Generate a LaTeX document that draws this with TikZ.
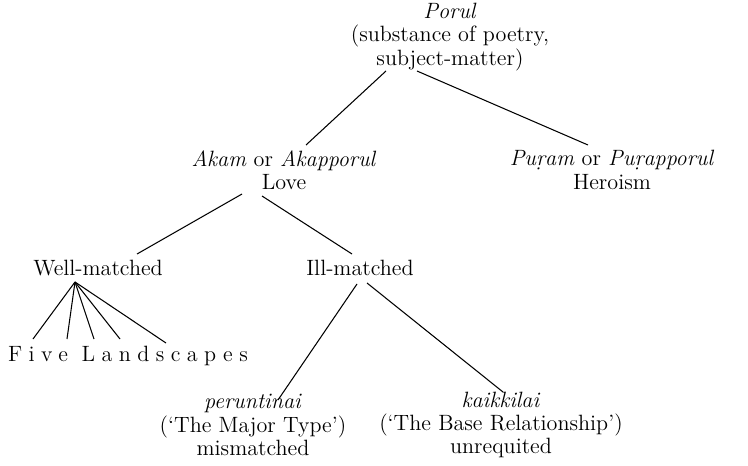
\documentclass[tikz,border=0pt]{standalone}
\usepackage{fontspec}
\setmainfont{Latin Modern Roman}
\usetikzlibrary{calc}
\tikzset{
  term/.style={
    align=center,
    inner sep=1pt,
    font=\fontsize{12.6}{13.2}\selectfont
  },
  spaced/.style={
    term,
    font=\fontsize{12.6}{13.2}\selectfont\addfontfeature{LetterSpace=29}
  },
  branch/.style={line width=0.6pt}
}

\begin{document}
\begin{tikzpicture}[x=0.02cm,y=-0.02cm]
    \useasboundingbox (0,0) rectangle (748,466);
    % levels of the tree
    \node (porul) [term] at (450,37) {\textit{Porul}\\(substance of poetry,\\subject-matter)};
    \node (akam)  [term] at (284,170) {\textit{Akam} or \textit{Akapporul}\\Love};
    \node (puram) [term] at (612,170) {\textit{Puṛam} or \textit{Puṛapporul}\\Heroism};
    \node (well)  [term] at (98,268) {Well-matched};
    \node (ill)   [term] at (360,268) {Ill-matched};
    \node (five)  [spaced] at (128,356) {Five Landscapes};
    \node (perun) [term] at (253,425) {\textit{peruntinai}\\(`The Major Type')\\mismatched};
    \node (kaik)  [term] at (501,425) {\textit{kaikkilai}\\(`The Base Relationship')\\unrequited};
    \coordinate (fan) at ($(well)+(-23,14)$);

    \draw [branch] ($(porul)+(-64,34)$) -- ($(akam)+(22,-25)$);
    \draw [branch] ($(porul)+(-33,34)$) -- ($(puram)+(-24,-25)$);
    \draw [branch] ($(akam)+(-42,24)$) -- ($(well)+(39,-14)$);
    \draw [branch] ($(akam)+(-22,26)$) -- ($(ill)+(-8,-14)$);
    \draw [branch] ($(ill)+(-3,16)$) -- ($(perun)+(25,-25)$);
    \draw [branch] ($(ill)+(7,15)$) -- ($(kaik)+(2,-33)$);
    \foreach \dx/\dy in {-95/-17, -61/-17, -34/-17, -8/-17, 38/-13}
      \draw [branch] (fan) -- ($(five)+(\dx,\dy)$);
\end{tikzpicture}
\end{document}
